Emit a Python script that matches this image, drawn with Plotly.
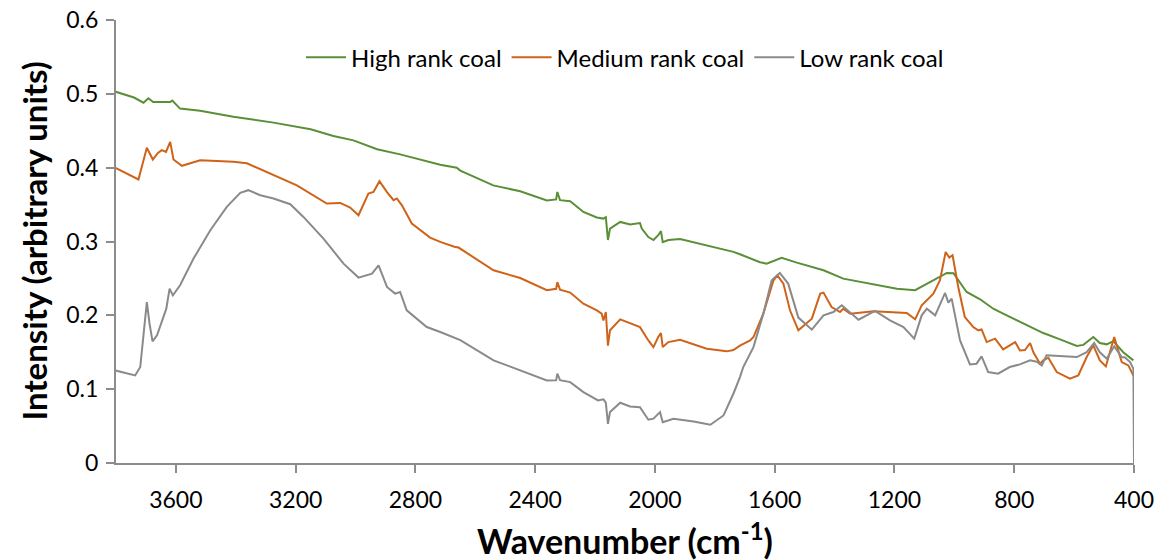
import plotly.graph_objects as go

# ---- data (wavenumber in cm-1, intensity in arbitrary units) ----
high_x = [3803, 3740, 3708, 3692, 3676, 3640, 3619, 3612, 3586, 3519, 3408, 3274, 3150, 3074, 3007,
          2928, 2851, 2717, 2662, 2650, 2540, 2450, 2361, 2330, 2326, 2317, 2283, 2239, 2194, 2172,
          2164, 2157, 2150, 2116, 2083, 2050, 2044, 2022, 2005, 1989, 1980, 1974, 1955, 1916, 1827,
          1738, 1716, 1649, 1627, 1577, 1526, 1437, 1371, 1270, 1192, 1131, 1115, 1070, 1025, 1003,
          959, 914, 870, 837, 803, 781, 758, 703, 647, 591, 569, 536, 514, 491, 469, 436, 402]
high_y = [0.503, 0.495, 0.488, 0.494, 0.489, 0.489, 0.489, 0.491, 0.480, 0.477, 0.469, 0.461, 0.452, 0.443, 0.437,
          0.425, 0.418, 0.404, 0.400, 0.396, 0.376, 0.368, 0.3555, 0.357, 0.367, 0.356, 0.3546, 0.340, 0.3325, 0.331,
          0.333, 0.302, 0.3175, 0.3265, 0.323, 0.325, 0.3175, 0.306, 0.302, 0.3085, 0.314, 0.299, 0.302, 0.3035, 0.295,
          0.286, 0.2827, 0.272, 0.270, 0.278, 0.2714, 0.261, 0.2497, 0.242, 0.236, 0.234, 0.2375, 0.2475, 0.2574, 0.257,
          0.2316, 0.2217, 0.209, 0.2023, 0.1955, 0.192, 0.1874, 0.176, 0.1675, 0.1584, 0.160, 0.1706, 0.1625, 0.1607, 0.165, 0.150, 0.139]

med_x = [3803, 3725, 3697, 3677, 3660, 3647, 3633, 3619, 3608, 3580, 3519, 3408, 3363, 3263, 3196,
         3096, 3051, 3018, 2990, 2957, 2940, 2920, 2895, 2873, 2862, 2845, 2812, 2751, 2717, 2670,
         2656, 2539, 2450, 2361, 2330, 2326, 2317, 2283, 2239, 2194, 2178, 2172, 2164, 2157, 2150,
         2116, 2083, 2050, 2022, 2005, 1989, 1980, 1974, 1955, 1916, 1827, 1760, 1738, 1716, 1682,
         1671, 1638, 1604, 1591, 1571, 1549, 1521, 1476, 1448, 1437, 1410, 1382, 1371, 1348, 1270,
         1159, 1131, 1109, 1070, 1048, 1029, 1017, 1006, 987, 965, 937, 920, 909, 892, 864, 837,
         797, 781, 764, 747, 736, 714, 703, 686, 658, 614, 586, 558, 536, 514, 494, 466, 441, 419, 402]
med_y = [0.400, 0.384, 0.427, 0.411, 0.420, 0.4237, 0.4214, 0.435, 0.411, 0.4025, 0.410, 0.408, 0.406, 0.3876, 0.376,
         0.3514, 0.3523, 0.346, 0.3356, 0.365, 0.367, 0.3817, 0.367, 0.356, 0.3583, 0.349, 0.3243, 0.3053, 0.2995, 0.293,
         0.2918, 0.261, 0.2506, 0.234, 0.236, 0.245, 0.2348, 0.2308, 0.2158, 0.2068, 0.2023, 0.193, 0.2045, 0.159, 0.1797,
         0.1946, 0.1888, 0.184, 0.166, 0.157, 0.1706, 0.176, 0.157, 0.1638, 0.167, 0.1548, 0.1512, 0.153, 0.159, 0.166,
         0.1706, 0.2023, 0.2475, 0.2542, 0.243, 0.2068, 0.1797, 0.1955, 0.2294, 0.2308, 0.2113, 0.2045, 0.209, 0.2023, 0.2054,
         0.2032, 0.1946, 0.2136, 0.2294, 0.2475, 0.2858, 0.2782, 0.2814, 0.2384, 0.1977, 0.1842, 0.1797, 0.181, 0.1638, 0.1684, 0.1539,
         0.1638, 0.1525, 0.153, 0.1625, 0.150, 0.1345, 0.139, 0.1426, 0.1232, 0.1141, 0.1186, 0.1435, 0.1593, 0.139, 0.1308, 0.1706, 0.1367, 0.1322, 0.1186]

low_x = [3803, 3736, 3719, 3708, 3697, 3688, 3678, 3663, 3647, 3632, 3621, 3610, 3586, 3541, 3485,
         3430, 3385, 3358, 3318, 3274, 3218, 3174, 3107, 3040, 2990, 2945, 2923, 2895, 2868, 2851,
         2829, 2762, 2717, 2662, 2650, 2539, 2450, 2361, 2330, 2326, 2317, 2283, 2239, 2190, 2172,
         2164, 2157, 2150, 2116, 2083, 2050, 2022, 2005, 1983, 1974, 1938, 1871, 1815, 1771, 1738,
         1716, 1705, 1671, 1638, 1610, 1583, 1555, 1521, 1476, 1437, 1404, 1376, 1320, 1265, 1215,
         1170, 1134, 1109, 1092, 1064, 1031, 1020, 1009, 981, 948, 926, 909, 887, 854, 815, 781,
         747, 725, 708, 692, 658, 591, 558, 533, 514, 491, 466, 441, 430, 413, 402, 400]
low_y = [0.1254, 0.1186, 0.130, 0.1706, 0.218, 0.1887, 0.1647, 0.1729, 0.191, 0.209, 0.2362, 0.2271, 0.2407, 0.2769, 0.3153,
         0.3469, 0.3659, 0.3695, 0.3627, 0.3582, 0.3505, 0.3333, 0.304, 0.270, 0.2511, 0.2565, 0.2678, 0.2384, 0.2294, 0.2316,
         0.2068, 0.1842, 0.1774, 0.168, 0.1665, 0.139, 0.1254, 0.1119, 0.112, 0.121, 0.1122, 0.1096, 0.096, 0.0847, 0.0862,
         0.0817, 0.0531, 0.0689, 0.0816, 0.0766, 0.0756, 0.0586, 0.060, 0.0689, 0.0553, 0.060, 0.0563, 0.0518, 0.0644, 0.0938,
         0.1164, 0.130, 0.157, 0.2023, 0.2475, 0.2574, 0.243, 0.1969, 0.1806, 0.200, 0.2045, 0.2136, 0.1941, 0.2059, 0.1932,
         0.1842, 0.1684, 0.200, 0.209, 0.200, 0.2303, 0.2173, 0.2226, 0.166, 0.1335, 0.1345, 0.1444, 0.1232, 0.121, 0.130, 0.1336,
         0.139, 0.1372, 0.1322, 0.1458, 0.1453, 0.1435, 0.150, 0.1625, 0.150, 0.1413, 0.158, 0.1435, 0.143, 0.1367, 0.1277, 0.0]

series_names = ["High rank coal", "Medium rank coal", "Low rank coal"]
series_colors = ["#5A8F37", "#CF6319", "#8A8A8A"]

x_ticks = [3600, 3200, 2800, 2400, 2000, 1600, 1200, 800, 400]
y_ticks = [0, 0.1, 0.2, 0.3, 0.4, 0.5, 0.6]
y_ticktext = ["0", "0.1", "0.2", "0.3", "0.4", "0.5", "0.6"]

FONT = "Lato, 'Open Sans', sans-serif"

fig = go.Figure()
for name, xs, ys, col in zip(series_names, [high_x, med_x, low_x], [high_y, med_y, low_y], series_colors):
    fig.add_trace(go.Scatter(x=xs, y=ys, mode="lines", name=name,
                             line=dict(color=col, width=2)))

axis_col = "#8C8C8C"
fig.update_layout(
    width=1166, height=560,
    margin=dict(l=116, r=32, t=20, b=97, autoexpand=False),
    paper_bgcolor="white", plot_bgcolor="white",
    font=dict(family=FONT, color="#000000"),
    showlegend=True,
    legend=dict(orientation="h", x=0.5, xanchor="center", y=0.915, yanchor="middle",
                font=dict(size=24, family=FONT), bgcolor="rgba(0,0,0,0)",
                itemwidth=40, tracegroupgap=0),
    xaxis=dict(range=[3800, 400], tickmode="array", tickvals=x_ticks,
               ticktext=[str(v) for v in x_ticks], automargin=False,
               showgrid=False, zeroline=False, showline=True, linecolor=axis_col, linewidth=2,
               ticks="outside", ticklen=8, tickwidth=2, tickcolor=axis_col,
               tickfont=dict(size=23, family=FONT), ticklabelstandoff=7),
    yaxis=dict(range=[0, 0.6], tickmode="array", tickvals=y_ticks,
               ticktext=y_ticktext, automargin=False,
               showgrid=False, zeroline=False, showline=True, linecolor=axis_col, linewidth=2,
               ticks="outside", ticklen=8, tickwidth=2, tickcolor=axis_col,
               tickfont=dict(size=23, family=FONT), ticklabelstandoff=3),
    annotations=[
        dict(text="<b>Wavenumber (cm<sup>-1</sup>)</b>", xref="paper", yref="paper",
             x=0.5, y=0, yshift=-76, xanchor="center", yanchor="middle", showarrow=False,
             font=dict(size=34, family=FONT)),
        dict(text="<b>Intensity (arbitrary units)</b>", xref="paper", yref="paper",
             x=0, xshift=-83, y=0.5, xanchor="center", yanchor="middle", textangle=-90,
             showarrow=False, font=dict(size=33, family=FONT)),
    ],
)

fig.write_html("out.html")
